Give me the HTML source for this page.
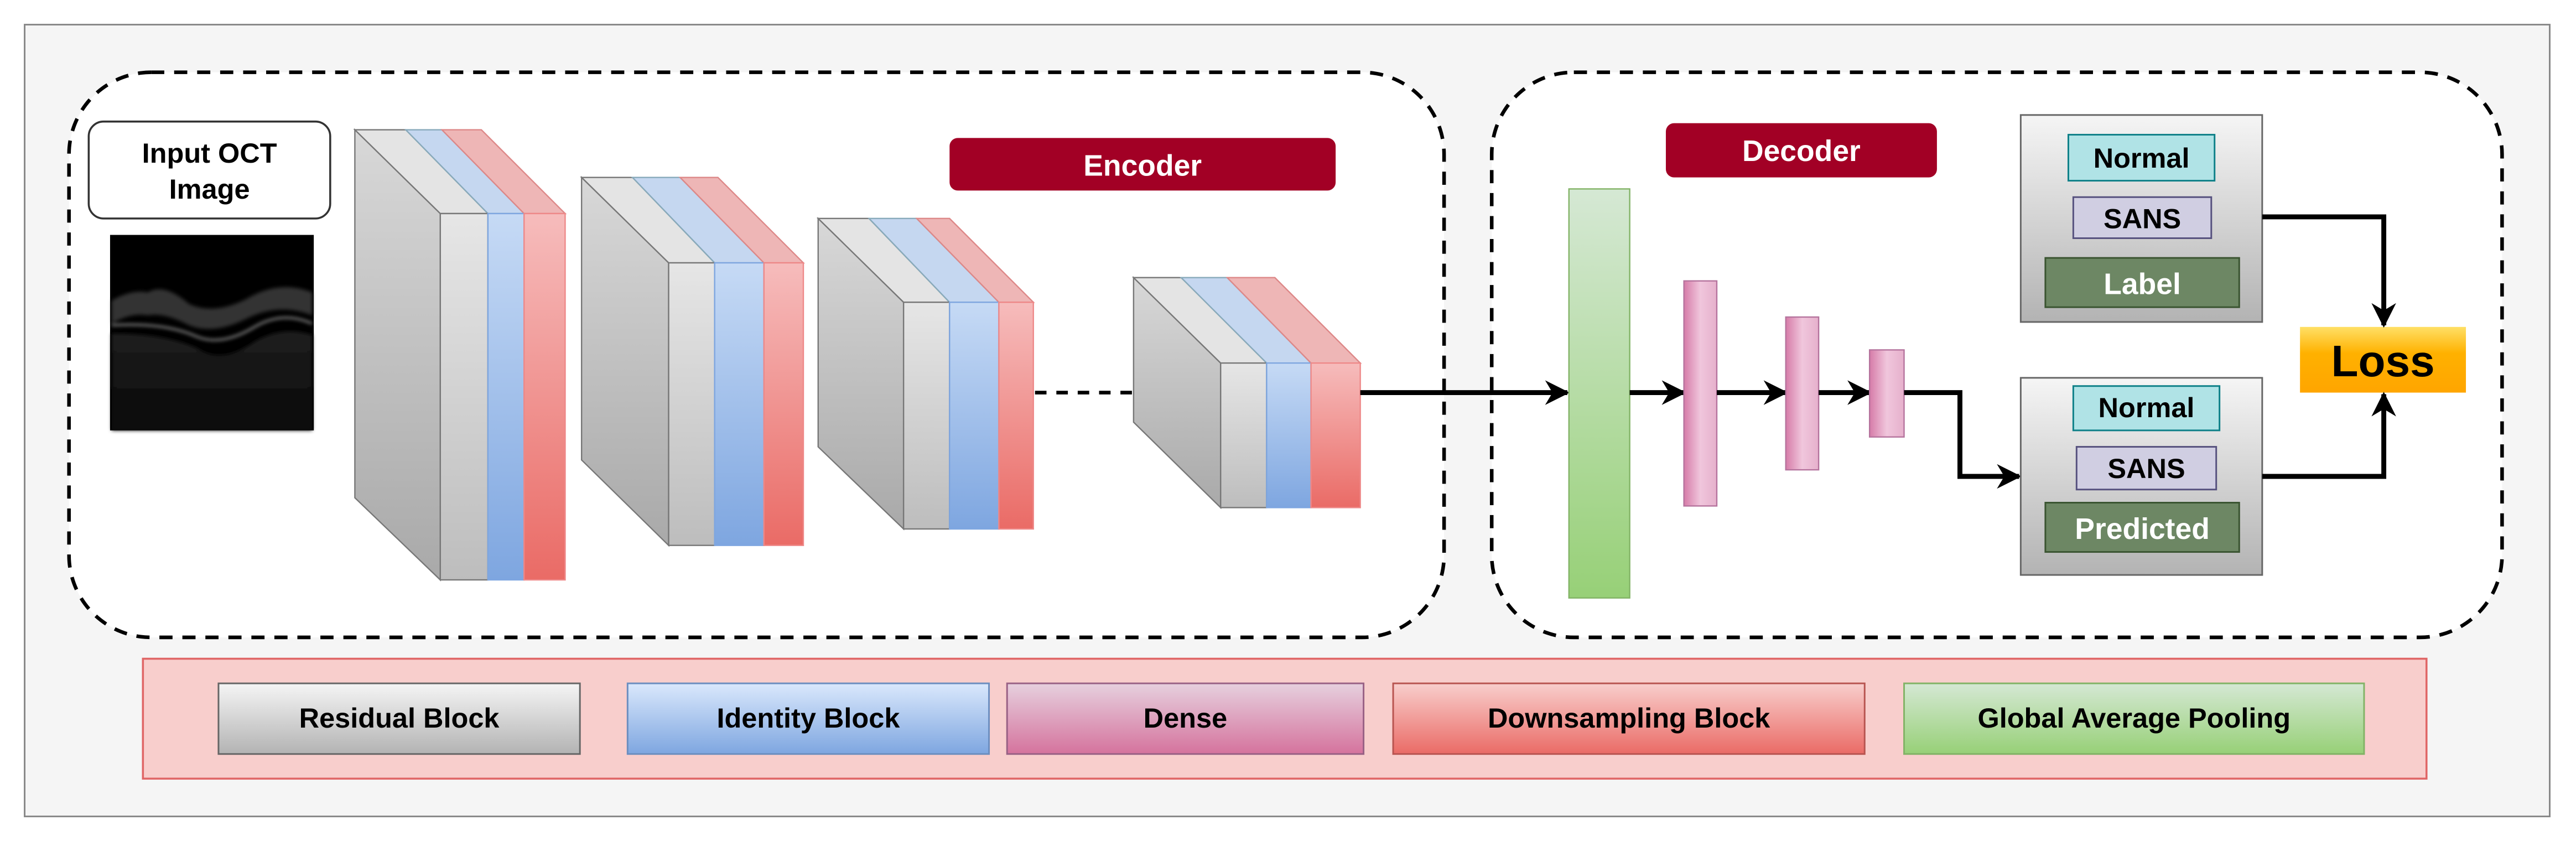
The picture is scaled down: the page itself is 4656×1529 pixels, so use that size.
<!DOCTYPE html>
<html><head><meta charset="utf-8"><style>
html,body{margin:0;padding:0;background:#fff}
svg{display:block}
text{font-family:"Liberation Sans",Arial,sans-serif;font-weight:bold}
</style></head><body>
<svg width="4656" height="1529" viewBox="0 0 1568 515" preserveAspectRatio="none" xmlns="http://www.w3.org/2000/svg">
<defs>
<linearGradient id="gf" x1="0" y1="0" x2="0" y2="1"><stop offset="0" stop-color="#e6e6e6"/><stop offset="1" stop-color="#bdbdbd"/></linearGradient>
<linearGradient id="gl" x1="0" y1="0" x2="0" y2="1"><stop offset="0" stop-color="#d8d8d8"/><stop offset="1" stop-color="#a9a9a9"/></linearGradient>
<linearGradient id="bf" x1="0" y1="0" x2="0" y2="1"><stop offset="0" stop-color="#c6daf5"/><stop offset="1" stop-color="#7ea6e0"/></linearGradient>
<linearGradient id="rf" x1="0" y1="0" x2="0" y2="1"><stop offset="0" stop-color="#f6bcbc"/><stop offset="1" stop-color="#ea6b66"/></linearGradient>
<linearGradient id="grn" x1="0" y1="0" x2="0" y2="1"><stop offset="0" stop-color="#d5e8d4"/><stop offset="1" stop-color="#97d077"/></linearGradient>
<linearGradient id="pk" x1="0" y1="0" x2="1" y2="0"><stop offset="0" stop-color="#d67ba8"/><stop offset="0.5" stop-color="#f0c6dc"/><stop offset="1" stop-color="#e6b0cc"/></linearGradient>
<linearGradient id="pkv" x1="0" y1="0" x2="0" y2="1"><stop offset="0" stop-color="#e6d0de"/><stop offset="1" stop-color="#d5739d"/></linearGradient>
<linearGradient id="box" x1="0" y1="0" x2="0" y2="1"><stop offset="0" stop-color="#f5f5f5"/><stop offset="1" stop-color="#b3b3b3"/></linearGradient>
<linearGradient id="lg" x1="0" y1="0" x2="0" y2="1"><stop offset="0" stop-color="#f5f5f5"/><stop offset="1" stop-color="#b3b3b3"/></linearGradient>
<linearGradient id="lb" x1="0" y1="0" x2="0" y2="1"><stop offset="0" stop-color="#dae8fc"/><stop offset="1" stop-color="#7ea6e0"/></linearGradient>
<linearGradient id="lr" x1="0" y1="0" x2="0" y2="1"><stop offset="0" stop-color="#f8cecc"/><stop offset="1" stop-color="#ea6b66"/></linearGradient>
<linearGradient id="lo" x1="0" y1="0" x2="0" y2="1"><stop offset="0" stop-color="#ffe066"/><stop offset="0.4" stop-color="#ffb100"/><stop offset="1" stop-color="#ffa500"/></linearGradient>
<linearGradient id="oct" x1="0" y1="0" x2="0" y2="1"><stop offset="0" stop-color="#1e1e1e"/><stop offset="1" stop-color="#080808"/></linearGradient>
<filter id="bl"><feGaussianBlur stdDeviation="1.2"/></filter>
<marker id="ah" viewBox="0 0 10 10" refX="9" refY="5" markerWidth="5" markerHeight="5" orient="auto" markerUnits="strokeWidth">
<path d="M0,0 L10,5 L0,10 L3,5 Z" fill="#000"/></marker>
</defs>
<rect x="0" y="0" width="1568" height="515" fill="#fff"/>
<rect x="15" y="15" width="1537" height="482" fill="#f5f5f5" stroke="#888" stroke-width="1"/>
<rect x="42" y="44" width="837" height="344" rx="50" fill="#fff" stroke="#000" stroke-width="2.2" stroke-dasharray="8,6"/>
<rect x="908" y="44" width="615" height="344" rx="50" fill="#fff" stroke="#000" stroke-width="2.2" stroke-dasharray="8,6"/>
<rect x="54" y="74" width="147" height="59" rx="9" fill="#fff" stroke="#333" stroke-width="1.2"/>
<text x="127.5" y="99" font-size="17" text-anchor="middle">Input OCT</text>
<text x="127.5" y="121" font-size="17" text-anchor="middle">Image</text>
<rect x="67" y="143" width="124" height="119" fill="#000"/>
<g filter="url(#bl)">
<path d="M68,203 Q100,203 120,212 Q135,222 155,208 Q172,198 190,204 L190,262 L68,262 Z" fill="url(#oct)"/>
<path d="M68,183 Q80,176 90,178 Q100,172 115,185 Q130,192 150,182 Q170,170 190,178 L190,192 Q170,184 150,194 Q130,204 115,198 Q100,190 90,192 Q80,190 68,197 Z" fill="#555" opacity="0.6"/>
<path d="M68,198 Q100,196 120,205 Q135,211 155,199 Q172,189 190,197" fill="none" stroke="#bbb" stroke-width="1.3" opacity="0.7"/>
</g>
<g stroke="#777" stroke-width="0.8">
<polygon points="216,79 268,130 268,353 216,303" fill="url(#gl)"/>
<polygon points="216,79 247,79 297,130 268,130" fill="#e4e4e4"/>
<polygon points="247,79 269,79 319,130 297,130" fill="#c5d7f0" stroke="#8ab"/>
<polygon points="269,79 293,79 344,130 319,130" fill="#eeb6b6" stroke="#d88"/>
<rect x="268" y="130" width="29" height="223" fill="url(#gf)"/>
<rect x="297" y="130" width="22" height="223" fill="url(#bf)" stroke="#7ea6e0"/>
<rect x="319" y="130" width="25" height="223" fill="url(#rf)" stroke="#e88"/>
<polygon points="354,108 407,160 407,332 354,280" fill="url(#gl)"/>
<polygon points="354,108 385,108 435,160 407,160" fill="#e4e4e4"/>
<polygon points="385,108 414,108 465,160 435,160" fill="#c5d7f0" stroke="#8ab"/>
<polygon points="414,108 437,108 489,160 465,160" fill="#eeb6b6" stroke="#d88"/>
<rect x="407" y="160" width="28" height="172" fill="url(#gf)"/>
<rect x="435" y="160" width="30" height="172" fill="url(#bf)" stroke="#7ea6e0"/>
<rect x="465" y="160" width="24" height="172" fill="url(#rf)" stroke="#e88"/>
<polygon points="498,133 550,184 550,322 498,272" fill="url(#gl)"/>
<polygon points="498,133 529,133 578,184 550,184" fill="#e4e4e4"/>
<polygon points="529,133 558,133 608,184 578,184" fill="#c5d7f0" stroke="#8ab"/>
<polygon points="558,133 578,133 629,184 608,184" fill="#eeb6b6" stroke="#d88"/>
<rect x="550" y="184" width="28" height="138" fill="url(#gf)"/>
<rect x="578" y="184" width="30" height="138" fill="url(#bf)" stroke="#7ea6e0"/>
<rect x="608" y="184" width="21" height="138" fill="url(#rf)" stroke="#e88"/>
<polygon points="690,169 743,221 743,309 690,257" fill="url(#gl)"/>
<polygon points="690,169 719,169 771,221 743,221" fill="#e4e4e4"/>
<polygon points="719,169 747,169 798,221 771,221" fill="#c5d7f0" stroke="#8ab"/>
<polygon points="747,169 776,169 828,221 798,221" fill="#eeb6b6" stroke="#d88"/>
<rect x="743" y="221" width="28" height="88" fill="url(#gf)"/>
<rect x="771" y="221" width="27" height="88" fill="url(#bf)" stroke="#7ea6e0"/>
<rect x="798" y="221" width="30" height="88" fill="url(#rf)" stroke="#e88"/>
</g>
<line x1="630" y1="239" x2="690" y2="239" stroke="#000" stroke-width="2.2" stroke-dasharray="7,6"/>
<rect x="578" y="84" width="235" height="32" rx="5" fill="#a20025"/>
<text x="695.5" y="107" font-size="18" fill="#fff" text-anchor="middle">Encoder</text>
<rect x="1014" y="75" width="165" height="33" rx="5" fill="#a20025"/>
<text x="1096.5" y="98" font-size="18" fill="#fff" text-anchor="middle">Decoder</text>
<line x1="828" y1="239" x2="954" y2="239" stroke="#000" stroke-width="3" marker-end="url(#ah)"/>
<rect x="955" y="115" width="37" height="249" fill="url(#grn)" stroke="#82b366" stroke-width="0.8"/>
<line x1="992" y1="239" x2="1025" y2="239" stroke="#000" stroke-width="3" marker-end="url(#ah)"/>
<rect x="1025" y="171" width="20" height="137" fill="url(#pk)" stroke="#b5739d" stroke-width="0.8"/>
<line x1="1045" y1="239" x2="1087" y2="239" stroke="#000" stroke-width="3" marker-end="url(#ah)"/>
<rect x="1087" y="193" width="20" height="93" fill="url(#pk)" stroke="#b5739d" stroke-width="0.8"/>
<line x1="1107" y1="239" x2="1138" y2="239" stroke="#000" stroke-width="3" marker-end="url(#ah)"/>
<rect x="1138" y="213" width="21" height="53" fill="url(#pk)" stroke="#b5739d" stroke-width="0.8"/>
<polyline points="1159,239 1193,239 1193,290 1229,290" fill="none" stroke="#000" stroke-width="3" marker-end="url(#ah)"/>
<rect x="1230" y="70" width="147" height="126" fill="url(#box)" stroke="#666" stroke-width="1"/>
<rect x="1259" y="82" width="89" height="28" fill="#b0e3e6" stroke="#0e8088" stroke-width="1"/>
<text x="1303.5" y="102" font-size="17" text-anchor="middle">Normal</text>
<rect x="1262" y="120" width="84" height="25" fill="#d0cee2" stroke="#56517e" stroke-width="1"/>
<text x="1304" y="139" font-size="17" text-anchor="middle">SANS</text>
<rect x="1245" y="157" width="118" height="30" fill="#6d8764" stroke="#3a5431" stroke-width="1"/>
<text x="1304" y="179" font-size="18" fill="#fff" text-anchor="middle">Label</text>
<rect x="1230" y="230" width="147" height="120" fill="url(#box)" stroke="#666" stroke-width="1"/>
<rect x="1262" y="235" width="89" height="27" fill="#b0e3e6" stroke="#0e8088" stroke-width="1"/>
<text x="1306.5" y="254" font-size="17" text-anchor="middle">Normal</text>
<rect x="1264" y="272" width="85" height="26" fill="#d0cee2" stroke="#56517e" stroke-width="1"/>
<text x="1306.5" y="291" font-size="17" text-anchor="middle">SANS</text>
<rect x="1245" y="306" width="118" height="30" fill="#6d8764" stroke="#3a5431" stroke-width="1"/>
<text x="1304" y="328" font-size="18" fill="#fff" text-anchor="middle">Predicted</text>
<rect x="1400" y="199" width="101" height="40" fill="url(#lo)"/>
<text x="1450.5" y="229" font-size="27" text-anchor="middle">Loss</text>
<polyline points="1377,132 1451,132 1451,198" fill="none" stroke="#000" stroke-width="3" marker-end="url(#ah)"/>
<polyline points="1377,290 1451,290 1451,240" fill="none" stroke="#000" stroke-width="3" marker-end="url(#ah)"/>
<rect x="87" y="401" width="1390" height="73" fill="#f8cecc" stroke="#e06666" stroke-width="1.2"/>
<rect x="133" y="416" width="220" height="43" fill="url(#lg)" stroke="#666" stroke-width="1"/>
<text x="243" y="443" font-size="17" text-anchor="middle">Residual Block</text>
<rect x="382" y="416" width="220" height="43" fill="url(#lb)" stroke="#6c8ebf" stroke-width="1"/>
<text x="492" y="443" font-size="17" text-anchor="middle">Identity Block</text>
<rect x="613" y="416" width="217" height="43" fill="url(#pkv)" stroke="#996185" stroke-width="1"/>
<text x="721.5" y="443" font-size="17" text-anchor="middle">Dense</text>
<rect x="848" y="416" width="287" height="43" fill="url(#lr)" stroke="#b85450" stroke-width="1"/>
<text x="991.5" y="443" font-size="17" text-anchor="middle">Downsampling Block</text>
<rect x="1159" y="416" width="280" height="43" fill="url(#grn)" stroke="#82b366" stroke-width="1"/>
<text x="1299" y="443" font-size="17" text-anchor="middle">Global Average Pooling</text>
</svg>
</body></html>
